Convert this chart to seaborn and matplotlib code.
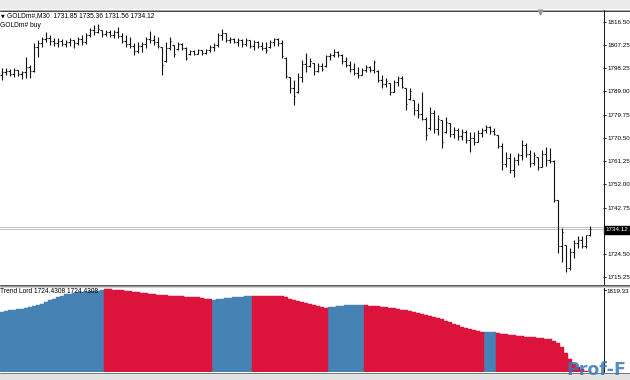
import numpy as np
import pandas as pd
import matplotlib
matplotlib.use("Agg")
import matplotlib.pyplot as plt
import seaborn as sns
from matplotlib.patches import Rectangle
from matplotlib.lines import Line2D

# ---------------- data (GOLDm#, M30) ----------------
bar_open = [
    1795.5, 1796.8, 1797.2, 1796.0, 1797.4, 1795.8, 1796.5, 1798.8, 1797.2, 1806.5,
    1808.2, 1809.8, 1810.2, 1809.0, 1808.0, 1809.1, 1807.8, 1808.6, 1809.2, 1808.0,
    1809.6, 1808.7, 1811.4, 1813.2, 1812.6, 1813.3, 1811.6, 1812.5, 1811.2, 1812.4,
    1810.9, 1809.0, 1807.9, 1806.8, 1805.0, 1806.9, 1807.6, 1809.8, 1809.2, 1808.5,
    1806.5, 1801.2, 1806.0, 1807.2, 1805.6, 1807.6, 1806.0, 1803.6, 1804.8, 1803.9,
    1805.2, 1804.1, 1805.3, 1806.6, 1807.4, 1811.2, 1812.0, 1809.4, 1809.9, 1808.6,
    1809.3, 1807.6, 1809.3, 1807.1, 1808.6, 1807.0, 1806.2, 1806.4, 1808.7, 1809.6,
    1808.1, 1802.3, 1794.6, 1790.2, 1788.9, 1794.5, 1799.8, 1799.2, 1800.1, 1797.2,
    1799.0, 1798.9, 1802.8, 1803.5, 1804.6, 1803.2, 1801.2, 1799.6, 1797.8, 1796.4,
    1795.6, 1797.3, 1798.6, 1797.6, 1797.2, 1793.4, 1791.8, 1792.2, 1788.8, 1792.6,
    1794.2, 1790.2, 1786.0, 1785.5, 1781.4, 1779.8, 1778.0, 1774.4, 1780.5, 1774.2,
    1777.4, 1773.0, 1776.2, 1772.2, 1773.6, 1771.2, 1772.8, 1769.8, 1770.4, 1769.0,
    1772.6, 1773.8, 1774.8, 1773.4, 1771.6, 1767.4, 1760.2, 1762.6, 1757.6, 1761.8,
    1763.8, 1767.8, 1764.0, 1760.4, 1762.8, 1759.0, 1764.2, 1761.8, 1761.2, 1745.8,
    1727.6, 1727.9, 1719.0, 1725.2, 1728.8, 1730.0, 1727.6, 1731.85,
]
bar_high = [
    1798.24, 1798.24, 1797.84, 1798.24, 1797.44, 1797.04, 1802.60, 1799.43, 1808.16, 1809.35,
    1810.54, 1812.53, 1811.34, 1810.15, 1810.15, 1809.75, 1809.35, 1810.15, 1809.35, 1810.54,
    1811.34, 1812.13, 1814.12, 1815.31, 1815.71, 1813.32, 1813.32, 1813.32, 1813.32, 1814.51,
    1812.13, 1811.34, 1810.54, 1808.16, 1808.56, 1808.56, 1810.54, 1812.93, 1811.34, 1810.54,
    1806.57, 1808.56, 1810.54, 1807.37, 1808.56, 1808.16, 1806.57, 1805.38, 1805.38, 1805.78,
    1805.38, 1805.78, 1807.37, 1808.16, 1812.13, 1813.72, 1812.13, 1810.54, 1810.15, 1810.15,
    1809.75, 1810.15, 1809.35, 1809.35, 1808.96, 1808.56, 1808.56, 1809.35, 1810.15, 1810.15,
    1809.35, 1802.60, 1794.66, 1793.47, 1796.25, 1801.41, 1804.19, 1802.21, 1800.22, 1800.22,
    1800.22, 1803.40, 1804.19, 1805.78, 1804.99, 1803.79, 1802.60, 1801.01, 1800.22, 1798.63,
    1798.24, 1799.43, 1799.03, 1801.41, 1797.44, 1795.46, 1794.26, 1792.28, 1793.47, 1795.06,
    1795.06, 1790.29, 1790.29, 1785.53, 1784.34, 1788.71, 1778.78, 1782.75, 1781.56, 1779.57,
    1777.59, 1778.78, 1776.40, 1774.81, 1774.41, 1774.01, 1773.62, 1772.82, 1772.82, 1773.62,
    1774.41, 1775.60, 1775.20, 1774.41, 1771.63, 1768.46, 1764.88, 1764.49, 1762.90, 1764.49,
    1769.65, 1768.46, 1765.68, 1764.88, 1762.90, 1765.68, 1766.87, 1766.47, 1761.71, 1745.83,
    1734.71, 1727.96, 1726.77, 1729.94, 1731.53, 1731.53, 1731.93, 1735.36,
]
bar_low = [
    1793.47, 1795.46, 1795.06, 1794.66, 1795.06, 1793.87, 1794.26, 1794.26, 1796.65, 1802.60,
    1806.57, 1808.56, 1807.37, 1806.97, 1806.57, 1806.97, 1806.57, 1806.97, 1806.18, 1807.37,
    1807.37, 1807.76, 1810.54, 1811.34, 1812.13, 1810.54, 1810.94, 1810.54, 1810.15, 1810.15,
    1808.16, 1806.57, 1806.18, 1803.40, 1804.19, 1804.59, 1806.18, 1808.16, 1807.37, 1806.18,
    1795.46, 1800.62, 1805.38, 1802.60, 1805.38, 1805.38, 1801.41, 1803.40, 1803.40, 1803.79,
    1803.40, 1803.79, 1804.59, 1804.99, 1806.57, 1809.35, 1808.56, 1808.16, 1808.16, 1806.97,
    1806.57, 1806.97, 1806.18, 1805.38, 1806.18, 1805.38, 1804.19, 1806.18, 1806.97, 1806.97,
    1802.21, 1794.26, 1788.31, 1783.54, 1788.31, 1792.68, 1796.65, 1798.63, 1795.46, 1796.65,
    1797.04, 1798.63, 1801.41, 1802.60, 1802.60, 1799.82, 1798.63, 1796.65, 1795.46, 1794.26,
    1795.46, 1796.65, 1796.65, 1796.25, 1792.68, 1790.29, 1790.69, 1787.51, 1788.71, 1791.09,
    1790.29, 1781.56, 1785.53, 1779.57, 1778.38, 1777.59, 1769.65, 1773.62, 1772.43, 1771.63,
    1766.47, 1772.43, 1770.84, 1770.44, 1769.65, 1769.65, 1768.46, 1764.88, 1767.66, 1768.85,
    1770.84, 1772.43, 1772.03, 1771.63, 1766.47, 1757.74, 1758.93, 1756.54, 1754.96, 1759.72,
    1761.71, 1762.90, 1758.93, 1759.72, 1757.74, 1758.93, 1759.32, 1760.52, 1745.03, 1724.78,
    1721.21, 1717.23, 1718.03, 1722.79, 1726.77, 1726.77, 1726.77, 1731.56,
]
bar_close = [
    1796.8, 1797.2, 1796.0, 1797.5, 1795.8, 1796.5, 1798.8, 1797.2, 1806.5, 1808.2,
    1809.8, 1810.2, 1809.0, 1808.0, 1809.1, 1807.8, 1808.6, 1809.2, 1808.0, 1809.6,
    1808.7, 1811.4, 1813.2, 1812.6, 1813.9, 1811.6, 1812.5, 1811.2, 1812.4, 1810.9,
    1809.0, 1807.9, 1806.8, 1805.0, 1806.9, 1807.6, 1809.8, 1809.2, 1808.5, 1806.9,
    1799.5, 1806.0, 1808.9, 1803.8, 1807.6, 1806.0, 1802.4, 1804.8, 1803.9, 1805.2,
    1804.1, 1805.3, 1806.6, 1807.4, 1811.2, 1812.0, 1809.4, 1809.9, 1808.6, 1809.3,
    1807.6, 1809.5, 1807.1, 1808.6, 1807.0, 1806.2, 1805.3, 1808.7, 1809.6, 1808.1,
    1802.9, 1795.0, 1790.2, 1787.0, 1794.5, 1799.8, 1799.2, 1801.0, 1797.2, 1799.0,
    1798.0, 1802.8, 1803.5, 1804.6, 1803.2, 1801.2, 1799.6, 1797.8, 1796.4, 1795.3,
    1797.3, 1798.6, 1797.6, 1800.6, 1793.4, 1791.8, 1792.9, 1788.8, 1792.6, 1794.2,
    1790.6, 1783.8, 1789.1, 1781.4, 1779.8, 1778.0, 1771.8, 1780.5, 1774.2, 1777.8,
    1768.9, 1776.8, 1772.2, 1773.6, 1771.2, 1772.8, 1769.8, 1770.4, 1769.0, 1772.6,
    1773.8, 1774.8, 1773.4, 1772.0, 1767.4, 1760.2, 1762.6, 1757.6, 1761.8, 1763.8,
    1767.8, 1764.0, 1760.4, 1763.6, 1759.0, 1764.2, 1761.8, 1761.2, 1745.8, 1727.6,
    1733.2, 1719.0, 1725.2, 1728.8, 1730.0, 1727.6, 1731.8, 1734.12,
]

# Trend Lord indicator (histogram) values and colour runs
trend_value = [
    1793.3, 1794.0, 1794.7, 1795.4, 1796.1, 1796.9, 1797.8, 1798.8, 1799.8, 1800.8,
    1802.0, 1804.0, 1806.2, 1808.1, 1810.0, 1811.8, 1813.2, 1814.1, 1814.9, 1815.5,
    1816.0, 1816.4, 1816.8, 1817.1, 1817.4, 1817.7,
    1819.3, 1819.0, 1818.6, 1818.1, 1817.6, 1817.0, 1816.5, 1815.9, 1815.3, 1814.8,
    1814.3, 1813.8, 1813.3, 1812.9, 1812.4, 1812.0, 1811.6, 1811.3, 1811.0, 1810.8,
    1810.6, 1810.4, 1810.2, 1809.6, 1808.8, 1808.0, 1807.3,
    1807.0, 1807.6, 1808.2, 1808.8, 1809.4, 1809.8, 1810.1, 1810.4, 1810.7, 1811.0,
    1811.2, 1811.2, 1811.1, 1811.1, 1811.0, 1811.0, 1810.9, 1810.9, 1809.6, 1808.3,
    1807.1, 1805.8, 1804.5, 1803.1, 1801.8, 1800.4, 1799.6, 1798.8, 1798.0,
    1798.8, 1799.2, 1799.6, 1800.0, 1800.4, 1800.5, 1800.6, 1800.7, 1800.7,
    1800.6, 1800.2, 1799.8, 1799.5, 1799.1, 1798.7, 1798.0, 1797.3, 1796.5, 1795.7,
    1795.0, 1794.2, 1793.4, 1792.3, 1791.1, 1789.9, 1788.7, 1787.5, 1786.3, 1784.6,
    1782.8, 1781.0, 1779.2, 1777.4, 1775.9, 1774.5, 1773.2, 1771.8, 1771.0, 1770.2,
    1769.7, 1769.7, 1769.6,
    1768.7, 1768.1, 1767.5, 1766.9, 1766.3, 1765.7, 1765.2, 1764.7, 1764.3, 1763.8,
    1763.3, 1762.7, 1762.1, 1761.4, 1759.9, 1757.7, 1752.9, 1746.3, 1739.1, 1733.0,
    1729.5, 1727.0, 1725.4, 1724.43,
]
trend_run_labels = ["up", "down", "up", "down", "up", "down", "up", "down"]
trend_run_lengths = [26, 27, 10, 19, 9, 30, 3, 24]

price_ticks = [1816.50, 1807.25, 1798.25, 1789.00, 1779.75, 1770.50,
               1761.25, 1752.00, 1742.75, 1724.50, 1715.25]
bid_price = 1734.12
ask_price = 1735.15
trend_scale_max = 1819.33
header_text = "GOLDm#,M30  1731.85 1735.36 1731.56 1734.12"
ea_text = "GOLDm# buy"
indicator_text = "Trend Lord 1724.4308 1724.4308"

# ---------------- style ----------------
sns.set_theme(style="white")
plt.rcParams['font.family'] = ['Liberation Sans', 'DejaVu Sans']

W, H = 630, 380
fig = plt.figure(figsize=(6.3, 3.8), dpi=100)
fig.patch.set_facecolor("white")


def fx(px):
    return px / W


def fy(py):
    return 1 - py / H


ax = fig.add_axes([0, fy(284), fx(603), (284 - 10) / H])
ax2 = fig.add_axes([0, fy(372), fx(603), (372 - 287) / H])

n = len(bar_close)
df = pd.DataFrame(dict(bar=np.arange(n), open=bar_open, high=bar_high,
                       low=bar_low, close=bar_close))

# ---------------- OHLC bars ----------------
bar_col = "#111111"
ax.axhline(ask_price, color="#c4c4c4", lw=0.75, zorder=1)
ax.axhline(bid_price, color="#c4c4c4", lw=0.75, zorder=1)
ax.vlines(df["bar"], df["low"], df["high"], color=bar_col, lw=0.8, zorder=3)
ax.hlines(df["open"], df["bar"] - 0.42, df["bar"], color=bar_col, lw=0.8, zorder=3)
ax.hlines(df["close"], df["bar"], df["bar"] + 0.42, color=bar_col, lw=0.8, zorder=3)

ax.set_xlim(-0.375, 150.375)
ax.set_ylim(1712.47, 1821.26)
ax.set_xticks([])
ax.yaxis.tick_right()
ax.set_yticks(price_ticks)
ax.set_yticklabels([f"{v:.2f}" for v in price_ticks])
ax.tick_params(axis="y", which="major", direction="out", length=2.3, width=0.6,
               pad=0.9, labelsize=4.5, colors="#000000", right=True, left=False,
               labelright=True, labelleft=False)
for s in ax.spines.values():
    s.set_visible(False)

# ---------------- Trend Lord histogram ----------------
trend = np.repeat(trend_run_labels, trend_run_lengths)
hdf = pd.DataFrame(dict(bar=np.arange(n), value=trend_value, trend=trend))
sns.barplot(data=hdf, x="bar", y="value", hue="trend",
            palette={"up": "#4682B4", "down": "#DC143C"},
            native_scale=True, width=1.0, dodge=False, errorbar=None,
            legend=False, saturation=1, ax=ax2)
for p in ax2.patches:
    p.set_edgecolor(p.get_facecolor())
    p.set_linewidth(0.3)
ax2.set_xlim(-0.375, 150.375)
ax2.set_ylim(1724.0, 1821.6)
ax2.set_xticks([])
ax2.set_yticks([])
ax2.set_xlabel("")
ax2.set_ylabel("")
for s in ax2.spines.values():
    s.set_visible(False)

# ---------------- frame (terminal window chrome) ----------------
def frect(x0, y0, x1, y1, color):
    fig.add_artist(Rectangle((fx(x0), fy(y1)), fx(x1) - fx(x0), (y1 - y0) / H,
                             transform=fig.transFigure, facecolor=color,
                             edgecolor="none", zorder=0.5))


def fline(x0, y0, x1, y1, color, lw=1.0):
    fig.add_artist(Line2D([fx(x0), fx(x1)], [fy(y0), fy(y1)], color=color,
                          lw=lw * 0.72, transform=fig.transFigure, zorder=4))


frect(0, 0, 630, 9, "#ebebeb")
fline(0, 9.5, 630, 9.5, "#a8a8a8")
fline(0, 10.5, 630, 10.5, "#4a4a4a")
fline(603.5, 10, 603.5, 372, "#1a1a1a")
fline(0, 284.5, 630, 284.5, "#5a5a5a")
fline(0, 285.5, 630, 285.5, "#9a9a9a")
fline(0, 286.5, 630, 286.5, "#d4d4d4")
fline(0, 372.5, 630, 372.5, "#7a7a7a")
frect(0, 373, 630, 380, "#e2e2e2")

fig.add_artist(Line2D([fx(540)], [fy(12)], marker="v", markersize=3.5,
                      color="#9a9a9a", lw=0, transform=fig.transFigure, zorder=5))

# ---------------- texts ----------------
fig.text(fx(0.5), fy(15.5), "\u25BC", fontsize=3.5, va="center", ha="left",
         color="black", family=["DejaVu Sans"])
fig.text(fx(7), fy(15.5), header_text, fontsize=4.8, va="center", ha="left",
         color="black")
fig.text(fx(0), fy(25.5), ea_text, fontsize=4.8, va="center", ha="left",
         color="black")
fig.text(fx(0), fy(291.5), indicator_text, fontsize=4.8, va="center",
         ha="left", color="black")
fig.text(fx(606), fy(291.5), f"{trend_scale_max:.2f}", fontsize=4.5, va="center",
         ha="left", color="black")
fig.add_artist(Line2D([fx(603.5), fx(606)], [fy(289.5), fy(289.5)],
                      color="black", lw=0.6, transform=fig.transFigure))
fig.text(fx(605.5), fy(229.8), f"{bid_price:.2f}", fontsize=4.5, va="center",
         ha="left", color="white",
         bbox=dict(boxstyle="square,pad=0.2", facecolor="black",
                   edgecolor="black"))

# watermark
fig.text(fx(566), fy(379), "Prof-F", fontsize=12.5, fontweight="bold",
         color="#3a78b8", alpha=0.85, ha="left", va="bottom",
         family=["DejaVu Sans"], zorder=6)

fig.savefig("out.png", dpi=100)
